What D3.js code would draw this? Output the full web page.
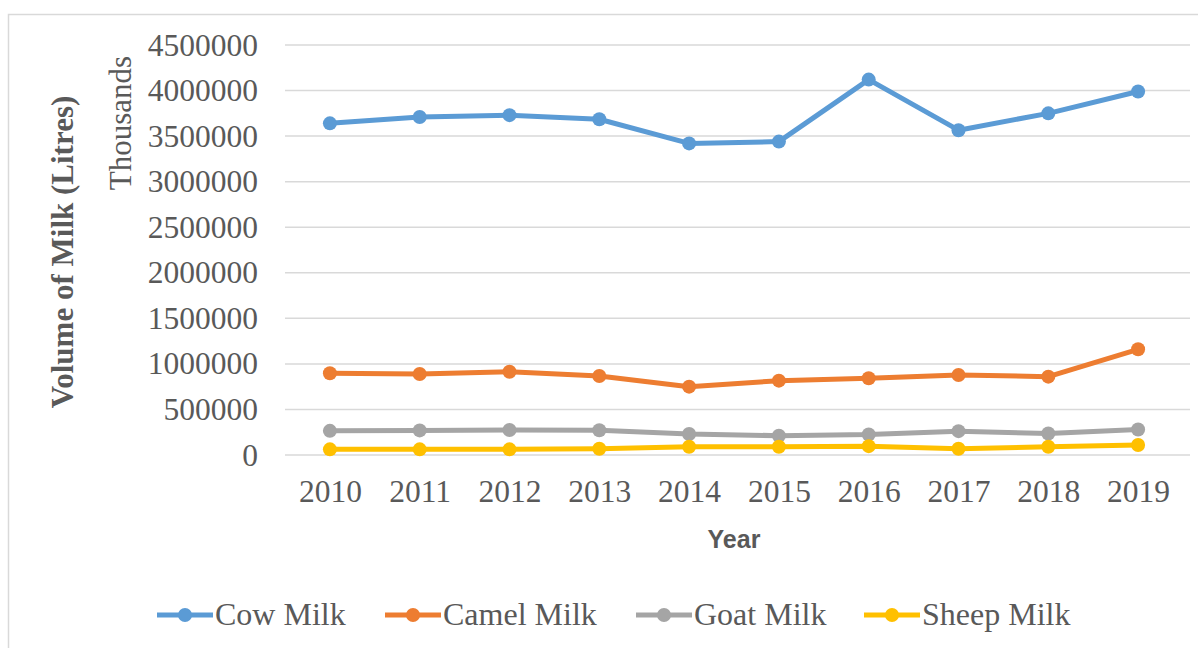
<!DOCTYPE html>
<html><head><meta charset="utf-8">
<script src="https://cdn.jsdelivr.net/npm/d3@7"></script>
<style>body{margin:0;background:#fff}svg{display:block}</style>
</head><body>
<script>
const years = ["2010","2011","2012","2013","2014","2015","2016","2017","2018","2019"];
const cowMilk   = [3640000,3710000,3730000,3685000,3420000,3440000,4120000,3565000,3750000,3990000];
const camelMilk = [897000,889000,914000,867000,750000,816000,842000,878000,860000,1160000];
const goatMilk  = [265000,270000,275000,272000,230000,212000,225000,262000,236000,280000];
const sheepMilk = [62000,62000,62000,68000,90000,90000,97000,68000,90000,110000];
const yTicks = [0,500000,1000000,1500000,2000000,2500000,3000000,3500000,4000000,4500000];
const seriesNames = ["Cow Milk","Camel Milk","Goat Milk","Sheep Milk"];
const seriesColors = ["#5B9BD5","#ED7D31","#A5A5A5","#FFC000"];
const seriesData = [cowMilk,camelMilk,goatMilk,sheepMilk];

const W=1198,H=648;
const svg=d3.select("body").append("svg").attr("width",W).attr("height",H);
svg.append("rect").attr("x",8.5).attr("y",14.5).attr("width",W).attr("height",H).attr("fill","#fff").attr("stroke","#D9D9D9").attr("stroke-width",1.5);

const x=d3.scalePoint().domain(years).range([285,1183]).padding(0.5);
const y=d3.scaleLinear().domain([0,4500000]).range([455,45]);

const serif="'Liberation Serif','Times New Roman',serif";
// gridlines
svg.append("g").selectAll("line").data(yTicks).join("line")
  .attr("x1",285).attr("x2",1190).attr("y1",d=>y(d)).attr("y2",d=>y(d))
  .attr("stroke","#D9D9D9").attr("stroke-width",1.5);

// y axis
const ya=svg.append("g").attr("transform","translate(285,0)")
  .call(d3.axisLeft(y).tickValues(yTicks).tickSize(0).tickPadding(27).tickFormat(d3.format("d")));
ya.select(".domain").remove();
ya.selectAll("text").attr("font-family",serif).attr("font-size",31.5).attr("fill","#595959");

// x axis
const xa=svg.append("g").attr("transform","translate(0,455)")
  .call(d3.axisBottom(x).tickSize(0).tickPadding(25));
xa.select(".domain").remove();
xa.selectAll("text").attr("font-family",serif).attr("font-size",31.5).attr("fill","#595959");

// titles
svg.append("text").attr("transform","translate(73,252) rotate(-90)").attr("text-anchor","middle")
  .attr("font-family",serif).attr("font-weight","bold").attr("font-size",31).attr("fill","#595959")
  .text("Volume of Milk (Litres)");
svg.append("text").attr("transform","translate(131,123) rotate(-90)").attr("text-anchor","middle")
  .attr("font-family",serif).attr("font-size",31).attr("fill","#595959").text("Thousands");
svg.append("text").attr("x",734).attr("y",548).attr("text-anchor","middle")
  .attr("font-family","'Liberation Sans',Arial,sans-serif").attr("font-weight","bold").attr("font-size",25).attr("fill","#595959").text("Year");

// lines
const line=d3.line().x((d,i)=>x(years[i])).y(d=>y(d));
seriesData.forEach((vals,k)=>{
  const g=svg.append("g");
  g.append("path").datum(vals).attr("d",line).attr("fill","none")
    .attr("stroke",seriesColors[k]).attr("stroke-width",5).attr("stroke-linejoin","round");
  g.selectAll("circle").data(vals).join("circle")
    .attr("cx",(d,i)=>x(years[i])).attr("cy",d=>y(d)).attr("r",7).attr("fill",seriesColors[k]);
});

// legend
const legX=[157,385,636,864];
const leg=svg.append("g");
seriesNames.forEach((n,k)=>{
  const g=leg.append("g").attr("transform",`translate(${legX[k]},615)`);
  g.append("line").attr("x1",0).attr("x2",56).attr("stroke",seriesColors[k]).attr("stroke-width",5);
  g.append("circle").attr("cx",28).attr("r",7).attr("fill",seriesColors[k]);
  g.append("text").attr("x",58).attr("y",10).attr("font-family",serif).attr("font-size",32).attr("fill","#595959").text(n);
});
</script>
</body></html>
